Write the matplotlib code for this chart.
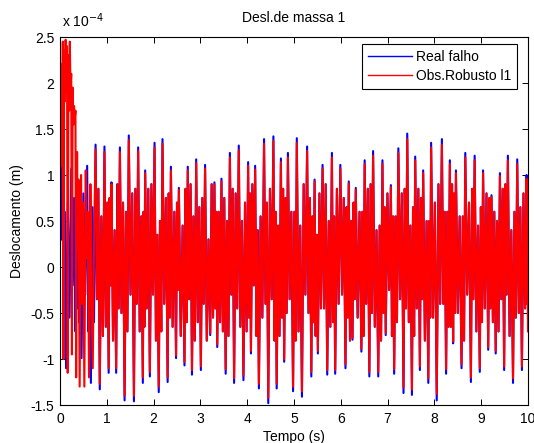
import numpy as np
import matplotlib
matplotlib.use("Agg")
import matplotlib.pyplot as plt
from matplotlib.ticker import FuncFormatter, MultipleLocator

plt.rcParams['font.family'] = ['Liberation Sans', 'DejaVu Sans']

# Turning points of the true displacement of mass 1 (t in s, value in 1e-4 m)
real_t = [0.00, 0.05, 0.13, 0.24, 0.33, 0.38, 0.46, 0.58, 0.66, 0.76,
          0.85, 0.95, 1.04, 1.10, 1.20, 1.28, 1.38, 1.47, 1.58, 1.67,
          1.77, 1.82, 1.92, 2.02, 2.11, 2.19, 2.30, 2.37, 2.48, 2.54,
          2.66, 2.73, 2.82, 2.91, 3.01, 3.10, 3.21, 3.30, 3.36, 3.45,
          3.54, 3.63, 3.72, 3.82, 3.92, 4.02, 4.08, 4.17, 4.25, 4.36,
          4.45, 4.56, 4.63, 4.72, 4.79, 4.87, 4.98, 5.06, 5.17, 5.28,
          5.37, 5.44, 5.51, 5.61, 5.71, 5.81, 5.88, 5.99, 6.10, 6.17,
          6.25, 6.32, 6.44, 6.51, 6.61, 6.69, 6.80, 6.89, 6.96, 7.07,
          7.14, 7.23, 7.34, 7.42, 7.52, 7.59, 7.69, 7.76, 7.87, 7.93,
          8.05, 8.16, 8.25, 8.33, 8.40, 8.46, 8.58, 8.66, 8.78, 8.86,
          8.97, 9.04, 9.15, 9.22, 9.31, 9.40, 9.49, 9.57, 9.68, 9.77,
          9.87, 9.97, 10.00]
real_v = [0.25, 1.16, -1.10, 1.07, -0.70, 0.80, -0.99, 1.10, -1.26, 1.33,
          -1.33, 1.31, -1.15, 0.92, -1.15, 1.30, -1.45, 1.43, -1.46, 1.30,
          -1.26, 1.05, -1.19, 1.35, -1.36, 1.39, -1.25, 1.09, -0.99, 0.86,
          -1.07, 1.09, -1.17, 1.17, -1.12, 1.11, -0.74, 0.92, -0.87, 0.96,
          -1.16, 1.24, -1.26, 1.32, -1.23, 1.14, -0.94, 1.10, -1.32, 1.39,
          -1.48, 1.42, -1.32, 1.18, -1.03, 1.24, -1.35, 1.40, -1.41, 1.31,
          -1.19, 0.95, -0.94, 1.11, -1.17, 1.24, -1.16, 1.11, -1.10, 0.93,
          -0.79, 0.86, -0.92, 1.16, -1.19, 1.26, -1.19, 1.16, -0.74, 0.89,
          -1.16, 1.29, -1.37, 1.45, -1.39, 1.20, -1.12, 1.05, -1.26, 1.35,
          -1.45, 1.39, -1.16, 1.16, -0.83, 1.05, -1.10, 1.24, -1.25, 1.21,
          -1.14, 1.05, -0.90, 0.78, -0.94, 1.02, -1.12, 1.21, -1.26, 1.17,
          -1.12, 1.00, -0.55]

# Small reversals inside each interval between consecutive turning points
wiggle = [(0.85, 0.30), (-0.55, 0.60), (0.70, -0.55), (-0.20, 0.75), (0.45, -0.45),
          (-0.60, 0.50), (0.80, -0.30), (-0.70, 0.45), (0.65, -0.60), (-0.35, 0.85),
          (0.55, -0.75), (-0.65, 0.70), (0.75, -0.20), (-0.80, 0.40), (0.90, -0.45),
          (-0.50, 0.70), (0.60, -0.70), (-0.30, 0.80), (0.85, -0.40), (-0.70, 0.55),
          (0.60, -0.65), (-0.45, 0.85), (0.90, -0.30), (-0.80, 0.35), (0.50, -0.70),
          (-0.40, 0.75), (0.80, -0.55), (-0.65, 0.60), (0.70, -0.25), (-0.75, 0.45),
          (0.85, -0.60), (-0.35, 0.90), (0.55, -0.80), (-0.60, 0.65), (0.75, -0.40),
          (-0.80, 0.30), (0.90, -0.55), (-0.45, 0.60), (0.60, -0.60), (-0.70, 0.75),
          (0.50, -0.75), (-0.30, 0.85), (0.80, -0.45), (-0.65, 0.50), (0.70, -0.70),
          (-0.55, 0.80), (0.90, -0.20), (-0.75, 0.40), (0.55, -0.55), (-0.40, 0.70),
          (0.85, -0.35), (-0.80, 0.60), (0.45, -0.75), (-0.55, 0.85), (0.75, -0.50),
          (-0.35, 0.60), (0.60, -0.80), (-0.70, 0.45), (0.90, -0.30), (-0.50, 0.75),
          (0.55, -0.60), (-0.75, 0.35), (0.80, -0.45), (-0.45, 0.90), (0.50, -0.65),
          (-0.60, 0.55), (0.85, -0.40), (-0.30, 0.75), (0.65, -0.55), (-0.80, 0.50),
          (0.70, -0.35), (-0.55, 0.60), (0.60, -0.75), (-0.40, 0.85), (0.90, -0.50),
          (-0.65, 0.40), (0.45, -0.80), (-0.50, 0.65), (0.80, -0.25), (-0.75, 0.55),
          (0.55, -0.60), (-0.35, 0.80), (0.85, -0.45), (-0.60, 0.45), (0.65, -0.75),
          (-0.45, 0.85), (0.75, -0.35), (-0.80, 0.50), (0.50, -0.55), (-0.55, 0.70),
          (0.90, -0.40), (-0.40, 0.60), (0.60, -0.65), (-0.65, 0.90), (0.80, -0.50),
          (-0.50, 0.55), (0.55, -0.80), (-0.30, 0.70), (0.85, -0.35), (-0.70, 0.45),
          (0.65, -0.60), (-0.45, 0.80), (0.75, -0.45), (-0.60, 0.60), (0.50, -0.70),
          (-0.35, 0.85), (0.90, -0.30), (-0.75, 0.40), (0.60, -0.55), (-0.50, 0.65),
          (0.80, -0.45), (-0.40, 0.55)]

# Robust l1 observer: start-up transient before it locks onto the true motion
obs_start_t = [0.000, 0.012, 0.024, 0.036, 0.048, 0.060, 0.075, 0.090, 0.105, 0.120,
               0.135, 0.150, 0.165, 0.180, 0.195, 0.210, 0.225, 0.240, 0.255, 0.270,
               0.285, 0.300, 0.315, 0.330, 0.345, 0.365, 0.380, 0.395, 0.420, 0.450,
               0.470, 0.490, 0.520, 0.550, 0.570, 0.590, 0.620, 0.650, 0.670, 0.700,
               0.730]
obs_start_v = [0.30, 1.50, 1.10, 2.20, 1.60, 2.45, -1.00, 2.35, 1.80, 2.47,
               1.90, 2.40, -1.15, 2.30, 1.70, 2.45, 1.90, 2.10, -0.95, 1.95,
               1.55, 1.75, 1.60, 1.70, -1.20, 1.25, 0.20, 0.95, -1.30, 1.00,
               -0.40, 0.70, -1.30, 1.05, 0.10, 0.60, -1.20, 0.90, -0.20, -1.10,
               0.40]

# Observer turning points once locked on (instants real_t[9:], from 0.76 s)
obs_v = [1.28,
         -1.27, 1.25, -1.10, 0.90, -1.10, 1.25, -1.40, 1.38, -1.40, 1.26,
         -1.20, 1.02, -1.14, 1.30, -1.30, 1.34, -1.20, 1.05, -0.96, 0.84,
         -1.03, 1.05, -1.12, 1.13, -1.08, 1.07, -0.72, 0.90, -0.84, 0.93,
         -1.11, 1.19, -1.21, 1.27, -1.18, 1.10, -0.91, 1.06, -1.27, 1.34,
         -1.42, 1.37, -1.27, 1.14, -1.00, 1.19, -1.30, 1.35, -1.35, 1.26,
         -1.14, 0.93, -0.91, 1.07, -1.12, 1.19, -1.12, 1.07, -1.06, 0.91,
         -0.77, 0.84, -0.89, 1.12, -1.14, 1.21, -1.14, 1.12, -0.72, 0.87,
         -1.11, 1.24, -1.31, 1.39, -1.33, 1.16, -1.08, 1.02, -1.21, 1.30,
         -1.38, 1.33, -1.11, 1.12, -0.81, 1.02, -1.06, 1.19, -1.20, 1.16,
         -1.10, 1.02, -0.87, 0.76, -0.91, 0.99, -1.08, 1.16, -1.21, 1.12,
         -1.08, 0.96, -0.70]

LOCK = 9  # index in real_t where the observer trace joins


def trace(ts, vs, wig):
    """Turning points plus the two small reversals inside each interval."""
    tt, yy = [], []
    for k in range(len(ts) - 1):
        t0, t1 = ts[k], ts[k + 1]
        a, b = wig[k]
        tt += [t0, t0 + (t1 - t0) / 3.0, t0 + 2.0 * (t1 - t0) / 3.0]
        yy += [vs[k], a, b]
    tt.append(ts[-1])
    yy.append(vs[-1])
    return np.array(tt), np.array(yy) * 1e-4


t_real, y_real = trace(real_t, real_v, wiggle)
t_obs_l, y_obs_l = trace(real_t[LOCK:], obs_v, wiggle[LOCK:])
t_obs = np.concatenate([obs_start_t, t_obs_l])
y_obs = np.concatenate([np.array(obs_start_v) * 1e-4, y_obs_l])

W, H = 534, 443
fig = plt.figure(figsize=(W / 100, H / 100), dpi=100)
ax = fig.add_axes([60 / W, 1 - 405 / H, 468 / W, 368 / H])

ax.plot(t_real, y_real, color=(0, 0, 1), lw=1.5, label='Real falho')
ax.plot(t_obs, y_obs, color=(1, 0, 0), lw=1.5, label='Obs.Robusto l1')

ax.set_xlim(0, 10)
ax.set_ylim(-1.5e-4, 2.5e-4)
ax.xaxis.set_major_locator(MultipleLocator(1))
ax.yaxis.set_major_locator(MultipleLocator(0.5e-4))
ax.yaxis.set_major_formatter(FuncFormatter(lambda v, p: f"{v * 1e4:g}"))
ax.tick_params(direction='in', length=4, width=0.7, top=True, right=True,
               labelsize=10, colors='black')
ax.tick_params(axis='x', pad=5)
ax.tick_params(axis='y', pad=4)
for s in ax.spines.values():
    s.set_linewidth(0.8)
    s.set_color('black')

ax.set_title('Desl.de massa 1', fontsize=10, pad=11)
ax.set_xlabel('Tempo (s)', fontsize=10, labelpad=3)
ax.set_ylabel('Deslocamento (m)', fontsize=10, labelpad=5)
fig.text(62 / W, 1 - 27 / H, r'x 10$^{-4}$', fontsize=10, ha='left', va='baseline')

leg = ax.legend(loc='upper right', bbox_to_anchor=(517 / W, 1 - 44 / H),
                bbox_transform=fig.transFigure, fontsize=10, fancybox=False,
                edgecolor='black', framealpha=1, handlelength=3.2,
                borderaxespad=0, labelspacing=0.4, borderpad=0.4,
                handletextpad=0.3)
leg.get_frame().set_linewidth(0.8)
for line in leg.get_lines():
    line.set_linewidth(1.0)

fig.savefig('out.png', dpi=100)
